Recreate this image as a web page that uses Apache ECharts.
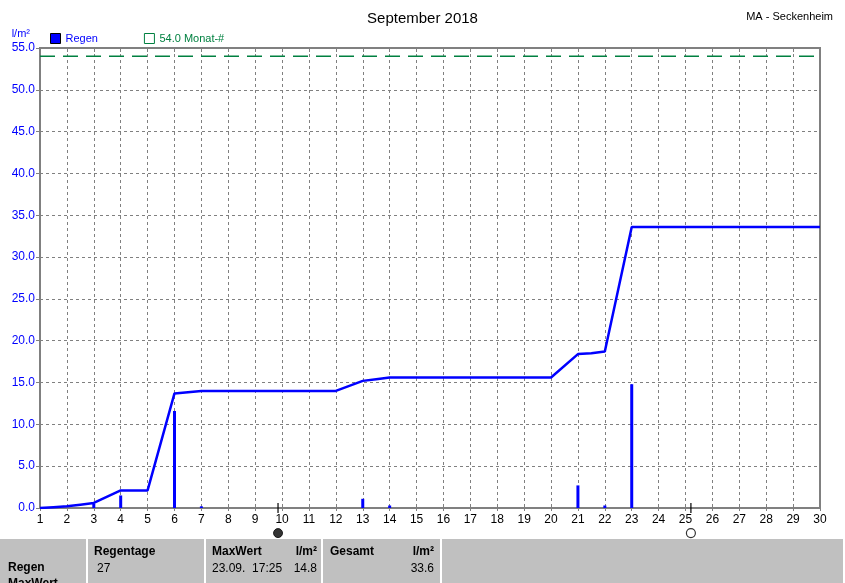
<!DOCTYPE html>
<html><head><meta charset="utf-8">
<script src="https://cdn.jsdelivr.net/npm/echarts@6/dist/echarts.min.js"></script>
<style>html,body{margin:0;padding:0;background:#fff}#c{width:845px;height:583px}</style>
</head><body><div id="c"></div>
<script>
// cumulative rain (day position, l/m²)
const cumDays = [1, 1.5, 2, 2.5, 3, 4, 5, 6, 6.5, 7, 12, 13, 13.5, 14, 20, 21, 21.5, 22, 23, 30];
const cumVals = [0, 0.1, 0.2, 0.4, 0.6, 2.1, 2.1, 13.7, 13.85, 14.0, 14.0, 15.2, 15.4, 15.6, 15.6, 18.4, 18.5, 18.7, 33.6, 33.6];
// daily rain bars
const barDays = [3, 4, 6, 7, 13, 14, 21, 22, 23];
const barVals = [0.5, 1.5, 11.6, 0.2, 1.1, 0.3, 2.7, 0.3, 14.8];
// monthly reference
const monthRef = 54.0;
const newMoonDay = 9.85, fullMoonDay = 25.2;
const yTicks = [0, 55, 5];

const FONT = '"Liberation Sans", Arial, sans-serif';
const chart = echarts.init(document.getElementById('c'), null, {renderer: 'canvas'});
chart.setOption({
  animation: false,
  textStyle: {fontFamily: FONT},
  title: [
    {text: 'September 2018', left: 'center', top: 6, textStyle: {fontSize: 15, fontWeight: 'normal', color: '#000', fontFamily: FONT}},
    {text: 'MA - Seckenheim', right: 7, top: 6, textStyle: {fontSize: 11, fontWeight: 'normal', color: '#000', fontFamily: FONT}}
  ],
  legend: {
    left: 45, top: 28, itemWidth: 10, itemHeight: 10, itemGap: 46,
    textStyle: {fontSize: 11, fontFamily: FONT},
    selectedMode: false,
    data: [
      {name: 'Regen', icon: 'rect', itemStyle: {color: '#0000ff', borderColor: '#000', borderWidth: 1}, textStyle: {color: '#0000ff'}},
      {name: '54.0 Monat-#', icon: 'rect', itemStyle: {color: '#fff', borderColor: '#008040', borderWidth: 1}, textStyle: {color: '#008040'}}
    ]
  },
  grid: {left: 40, right: 25, top: 48, bottom: 75, show: true, borderColor: '#808080', borderWidth: 2},
  xAxis: [{
    type: 'value', min: 1, max: 30, interval: 1,
    axisLine: {lineStyle: {color: '#808080', width: 2}},
    axisTick: {show: true, length: 3, lineStyle: {color: '#808080'}},
    axisLabel: {color: '#000', fontSize: 12, margin: 6, fontFamily: FONT},
    splitLine: {show: true, lineStyle: {color: '#808080', type: [3, 3], width: 1}}
  }, {
    type: 'value', min: 1, max: 30, interval: 1, position: 'top',
    axisLine: {show: false},
    axisTick: {show: true, inside: true, length: 4, lineStyle: {color: '#808080'}},
    axisLabel: {show: false}, splitLine: {show: false}
  }],
  yAxis: {
    type: 'value', min: yTicks[0], max: yTicks[1], interval: yTicks[2],
    name: 'l/m²', nameLocation: 'end', nameGap: 9,
    nameTextStyle: {color: '#0000ff', fontSize: 11, align: 'right', padding: [0, 10, 0, 0], fontFamily: FONT},
    axisLine: {show: true, lineStyle: {color: '#808080', width: 2}},
    axisTick: {show: true, length: 4, lineStyle: {color: '#808080'}},
    axisLabel: {color: '#0000ff', fontSize: 12, margin: 5, formatter: v => v.toFixed(1), fontFamily: FONT},
    splitLine: {show: true, lineStyle: {color: '#808080', type: [3, 3], width: 1}}
  },
  series: [
    {name: 'Regen', type: 'line', data: cumDays.map((d, i) => [d, cumVals[i]]), symbol: 'none',
     lineStyle: {color: '#0000ff', width: 2.5}, itemStyle: {color: '#0000ff'}, z: 5},
    {name: 'Regen', type: 'bar', data: barDays.map((d, i) => [d, barVals[i]]), barWidth: 3,
     itemStyle: {color: '#0000ff'}, z: 4},
    {name: '54.0 Monat-#', type: 'line', data: [[1, monthRef], [30, monthRef]], symbol: 'none',
     lineStyle: {color: '#008040', width: 1.5, type: [15, 8]}, itemStyle: {color: '#008040'}, z: 3},
    {type: 'scatter', clip: false, silent: true, data: [[newMoonDay, 0], [fullMoonDay, 0]], symbol: 'rect', symbolSize: [1.5, 10],
     itemStyle: {color: '#000'}, z: 6},
    {type: 'scatter', clip: false, silent: true, data: [[newMoonDay, -3]], symbol: 'circle', symbolSize: 9,
     itemStyle: {color: '#000', borderColor: '#000', borderWidth: 1}, z: 6},
    {type: 'scatter', clip: false, silent: true, data: [[fullMoonDay, -3]], symbol: 'circle', symbolSize: 9,
     itemStyle: {color: '#fff', borderColor: '#000', borderWidth: 1.2}, z: 6}
  ],
  graphic: [
    {type: 'rect', left: 0, top: 539, shape: {width: 845, height: 44}, style: {fill: '#c0c0c0'}, z: 1},
    {type: 'rect', left: 86, top: 539, shape: {width: 2, height: 44}, style: {fill: '#fff'}, z: 2},
    {type: 'rect', left: 204, top: 539, shape: {width: 2, height: 44}, style: {fill: '#fff'}, z: 2},
    {type: 'rect', left: 321, top: 539, shape: {width: 2, height: 44}, style: {fill: '#fff'}, z: 2},
    {type: 'rect', left: 440, top: 539, shape: {width: 2, height: 44}, style: {fill: '#fff'}, z: 2},
    {type: 'rect', left: 843, top: 539, shape: {width: 2, height: 44}, style: {fill: '#fff'}, z: 2},
    {type: 'text', left: 94, top: 546, style: {text: 'Regentage', font: 'bold 12px ' + FONT, fill: '#000'}, z: 3},
    {type: 'text', left: 97, top: 563, style: {text: '27', font: '12px ' + FONT, fill: '#000'}, z: 3},
    {type: 'text', left: 8, top: 562, style: {text: 'Regen', font: 'bold 12px ' + FONT, fill: '#000'}, z: 3},
    {type: 'text', left: 8, top: 578, style: {text: 'MaxWert', font: 'bold 12px ' + FONT, fill: '#000'}, z: 3},
    {type: 'text', left: 212, top: 546, style: {text: 'MaxWert', font: 'bold 12px ' + FONT, fill: '#000'}, z: 3},
    {type: 'text', right: 845 - 317, top: 546, style: {text: 'l/m²', font: 'bold 12px ' + FONT, fill: '#000'}, z: 3},
    {type: 'text', left: 212, top: 563, style: {text: '23.09.  17:25', font: '12px ' + FONT, fill: '#000'}, z: 3},
    {type: 'text', right: 845 - 317, top: 563, style: {text: '14.8', font: '12px ' + FONT, fill: '#000'}, z: 3},
    {type: 'text', left: 330, top: 546, style: {text: 'Gesamt', font: 'bold 12px ' + FONT, fill: '#000'}, z: 3},
    {type: 'text', right: 845 - 434, top: 546, style: {text: 'l/m²', font: 'bold 12px ' + FONT, fill: '#000'}, z: 3},
    {type: 'text', right: 845 - 434, top: 563, style: {text: '33.6', font: '12px ' + FONT, fill: '#000'}, z: 3}
  ]
});
</script></body></html>
